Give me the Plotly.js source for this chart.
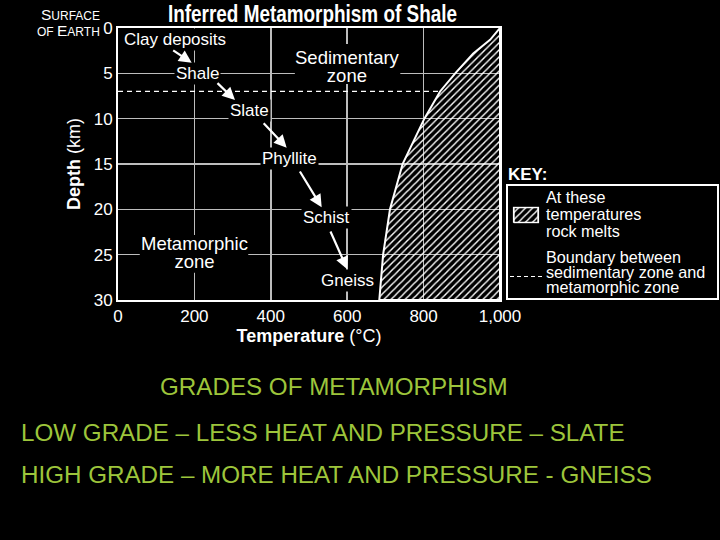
<!DOCTYPE html>
<html>
<head>
<meta charset="utf-8">
<script src="https://cdn.plot.ly/plotly-3.0.1.min.js"></script>
<style>html,body{margin:0;padding:0;background:#000;}#chart{width:720px;height:540px;}</style>
</head>
<body>
<div id="chart"></div>
<script>
// ---- data ----
var meltDepth = [0, 1.3, 2.8, 4.9, 7, 10, 15, 20, 25, 30];      // km
var meltTemp  = [1000, 974, 930, 885, 843, 802, 745, 712, 694, 684]; // °C (melting curve)
var boundaryDepth = 7;   // km, sedimentary / metamorphic boundary
var rocks     = ['Clay deposits', 'Shale', 'Slate', 'Phyllite', 'Schist', 'Gneiss'];
var rockTemp  = [10, 207, 343, 448, 545, 601];
var rockDepth = [1.3, 5, 9.05, 14.35, 20.95, 27.8];
var xTickVals = [0, 200, 400, 600, 800, 1000];
var xTickText = ['0', '200', '400', '600', '800', '1,000'];
var yTickVals = [0, 5, 10, 15, 20, 25, 30];
var bottomLines = ['GRADES OF METAMORPHISM',
                   'LOW GRADE \u2013 LESS HEAT AND PRESSURE \u2013 SLATE',
                   'HIGH GRADE \u2013 MORE HEAT AND PRESSURE - GNEISS'];

var FONT = 'Liberation Sans, Arial, Helvetica, sans-serif';
var pattern = {shape: '/', fgcolor: '#ffffff', bgcolor: 'rgba(0,0,0,0)', size: 5, solidity: 0.28};

// melt region: curve, then close along the bottom and right edges
var regionX = meltTemp.concat([1000, 1000]);
var regionY = meltDepth.concat([30, 0]);

// boundary line ends at the melt curve
var bIdx = meltDepth.indexOf(boundaryDepth);
var boundaryEnd = meltTemp[bIdx];

var traces = [
  {x: regionX, y: regionY, type: 'scatter', mode: 'lines', fill: 'toself',
   fillcolor: 'rgba(0,0,0,0)', fillpattern: pattern,
   line: {color: '#ffffff', width: 2}, hoverinfo: 'skip', showlegend: false},
  {x: [0, boundaryEnd], y: [boundaryDepth, boundaryDepth], type: 'scatter', mode: 'lines',
   line: {color: '#ffffff', width: 1.3, dash: '5px,4px'}, hoverinfo: 'skip', showlegend: false},
  // key swatch
  {x: [0, 1, 1, 0, 0], y: [0, 0, 1, 1, 0], xaxis: 'x2', yaxis: 'y2', type: 'scatter', mode: 'lines',
   fill: 'toself', fillcolor: 'rgba(0,0,0,0)', fillpattern: pattern,
   line: {color: '#ffffff', width: 2}, hoverinfo: 'skip', showlegend: false}
];

var W = 602; // plot area width in px (118..720)
function px(p) { return (p - 118) / W; }
function py(p) { return (300 - p) / 272; }

var ann = [];
var squeeze = []; // [annotation index, line spacing in em, font size]
// rock labels
rocks.forEach(function (r, i) {
  ann.push({x: rockTemp[i], y: rockDepth[i], xref: 'x', yref: 'y', text: r, showarrow: false,
    xanchor: i === 0 ? 'left' : 'center', yanchor: 'middle',
    font: {family: FONT, size: 17, color: '#ffffff'}, bgcolor: '#000000', borderpad: 1});
});
// arrows between stages
var arrows = [
  [140.6, 2.35, 192.9, 3.83],
  [256.5, 5.92, 306.3, 7.94],
  [377.7, 10.33, 441.6, 13.2],
  [473.8, 15.66, 533.2, 19.77],
  [554.5, 22.28, 600.3, 26.62]
];
arrows.forEach(function (a) {
  ann.push({x: a[2], y: a[3], ax: a[0], ay: a[1], xref: 'x', yref: 'y', axref: 'x', ayref: 'y',
    text: '', showarrow: true, arrowhead: 2, arrowsize: 1.15, arrowwidth: 2.2, arrowcolor: '#ffffff', standoff: 0});
});
// zone labels (backgrounds drawn as shapes between grid and traces)
squeeze.push([ann.length, 0.95, 18.5]);
ann.push({x: 601, y: 4.21, xref: 'x', yref: 'y', text: 'Sedimentary<br>zone', showarrow: false, xanchor: 'center', yanchor: 'middle',
  align: 'center', font: {family: FONT, size: 18.5, color: '#fff'}});
squeeze.push([ann.length, 0.95, 18.5]);
ann.push({x: 199, y: 24.8, xref: 'x', yref: 'y', text: 'Metamorphic<br>zone', showarrow: false, xanchor: 'center', yanchor: 'middle',
  align: 'center', font: {family: FONT, size: 18.5, color: '#fff'}});
// surface of earth
var sm = '<span style="font-size:12px">';
ann.push({x: px(102), y: py(15), xref: 'paper', yref: 'paper', text: 'S' + sm + 'URFACE</span>', showarrow: false,
  xanchor: 'right', yanchor: 'middle', font: {family: FONT, size: 15.5, color: '#fff'}});
ann.push({x: px(102), y: py(31), xref: 'paper', yref: 'paper', text: sm + 'OF </span>E' + sm + 'ARTH</span>', showarrow: false,
  xanchor: 'right', yanchor: 'middle', font: {family: FONT, size: 15.5, color: '#fff'}});
// key
ann.push({x: px(506), y: py(174), xref: 'paper', yref: 'paper', text: '<b>KEY:</b>', showarrow: false,
  xanchor: 'left', yanchor: 'middle', font: {family: FONT, size: 17, color: '#fff'}});
squeeze.push([ann.length, 1.03, 16.2]);
ann.push({x: px(544), y: py(214), xref: 'paper', yref: 'paper', text: 'At these<br>temperatures<br>rock melts',
  showarrow: false, xanchor: 'left', yanchor: 'middle', align: 'left', font: {family: FONT, size: 16.2, color: '#fff'}});
squeeze.push([ann.length, 0.94, 16.2]);
ann.push({x: px(544), y: py(271.6), xref: 'paper', yref: 'paper', text: 'Boundary between<br>sedimentary zone and<br>metamorphic zone',
  showarrow: false, xanchor: 'left', yanchor: 'middle', align: 'left', font: {family: FONT, size: 16.2, color: '#fff'}});
// bottom text
var bottomPos = [[158, 386], [19, 432], [19, 474]];
bottomLines.forEach(function (t, i) {
  ann.push({x: px(bottomPos[i][0]), y: py(bottomPos[i][1]), xref: 'paper', yref: 'paper', text: t, showarrow: false,
    xanchor: 'left', yanchor: 'middle', font: {family: FONT, size: 24.2, color: '#9dc53b'}});
});

var layout = {
  width: 720, height: 540,
  margin: {l: 118, r: 0, t: 28, b: 240, pad: 0},
  paper_bgcolor: '#000000', plot_bgcolor: '#000000',
  showlegend: false,
  title: {text: '<b>Inferred Metamorphism of Shale</b>', x: px(312.5), xref: 'paper', xanchor: 'center',
    y: 1 - 14 / 540, yref: 'container', yanchor: 'middle',
    font: {family: FONT, size: 24, color: '#ffffff'}},
  xaxis: {domain: [0, 382 / W], range: [0, 1000], tickvals: xTickVals, ticktext: xTickText,
    showgrid: true, gridcolor: '#bdbdbd', gridwidth: 1.5, zeroline: false,
    showline: true, mirror: true, linecolor: '#ffffff', linewidth: 2, ticks: '',
    tickfont: {family: FONT, size: 17, color: '#fff'},
    title: {text: '<b>Temperature</b> (\u00b0C)', standoff: 2, font: {family: FONT, size: 18, color: '#fff'}}},
  yaxis: {range: [30, 0], tickvals: yTickVals, showgrid: true, gridcolor: '#bdbdbd', gridwidth: 1.5, zeroline: false,
    showline: true, mirror: true, linecolor: '#ffffff', linewidth: 2, ticks: '',
    tickfont: {family: FONT, size: 17, color: '#fff'},
    title: {text: '<b>Depth</b> (km)', standoff: 8, font: {family: FONT, size: 18, color: '#fff'}}},
  xaxis2: {domain: [px(512.7), px(539.3)], anchor: 'y2', range: [-0.04, 1.04], visible: false, fixedrange: true},
  yaxis2: {domain: [py(223.3), py(206.7)], anchor: 'x2', range: [-0.04, 1.04], visible: false, fixedrange: true},
  shapes: [
    // black label backgrounds that interrupt the grid
    {type: 'rect', xref: 'x', yref: 'y', layer: 'between', x0: 463, x1: 739, y0: 1.76, y1: 6.17,
     fillcolor: '#000000', line: {width: 0}},
    {type: 'rect', xref: 'x', yref: 'y', layer: 'between', x0: 57, x1: 341, y0: 22.83, y1: 27.0,
     fillcolor: '#000000', line: {width: 0}},
    // key box
    {type: 'rect', xref: 'paper', yref: 'paper', x0: px(507), x1: px(718), y0: py(299), y1: py(185),
     line: {color: '#ffffff', width: 2}},
    {type: 'line', xref: 'paper', yref: 'paper', x0: px(510), x1: px(542), y0: py(276.5), y1: py(276.5),
     line: {color: '#ffffff', width: 1, dash: '4px,3px'}}
  ],
  annotations: ann
};

Plotly.newPlot('chart', traces, layout, {displayModeBar: false, staticPlot: true}).then(function (gd) {
  // condensed heavy title like the reference: squeeze the real text to its width
  var t = gd.querySelector('.gtitle');
  if (t) {
    t.setAttribute('textLength', '289');
    t.setAttribute('lengthAdjust', 'spacingAndGlyphs');
  }
  // tighter line spacing for the multi-line labels, kept centred
  squeeze.forEach(function (s) {
    var g = gd.querySelector('.annotation[data-index="' + s[0] + '"]');
    if (!g) return;
    var txt = g.querySelector('text');
    var lines = g.querySelectorAll('tspan.line');
    if (!txt || lines.length < 2) return;
    var n = lines.length;
    var shift = (n - 1) * (1.3 - s[1]) * s[2] / 2;
    lines.forEach(function (l, j) {
      if (j > 0) l.setAttribute('dy', (j * s[1]) + 'em');
      var y = l.getAttribute('y');
      if (y !== null && y !== '') l.setAttribute('y', parseFloat(y) + shift);
    });
    var anyY = lines[0].getAttribute('y');
    if (anyY === null || anyY === '') {
      var tr = txt.getAttribute('transform') || '';
      txt.setAttribute('transform', tr + ' translate(0,' + shift + ')');
    }
  });
});
</script>
</body>
</html>
